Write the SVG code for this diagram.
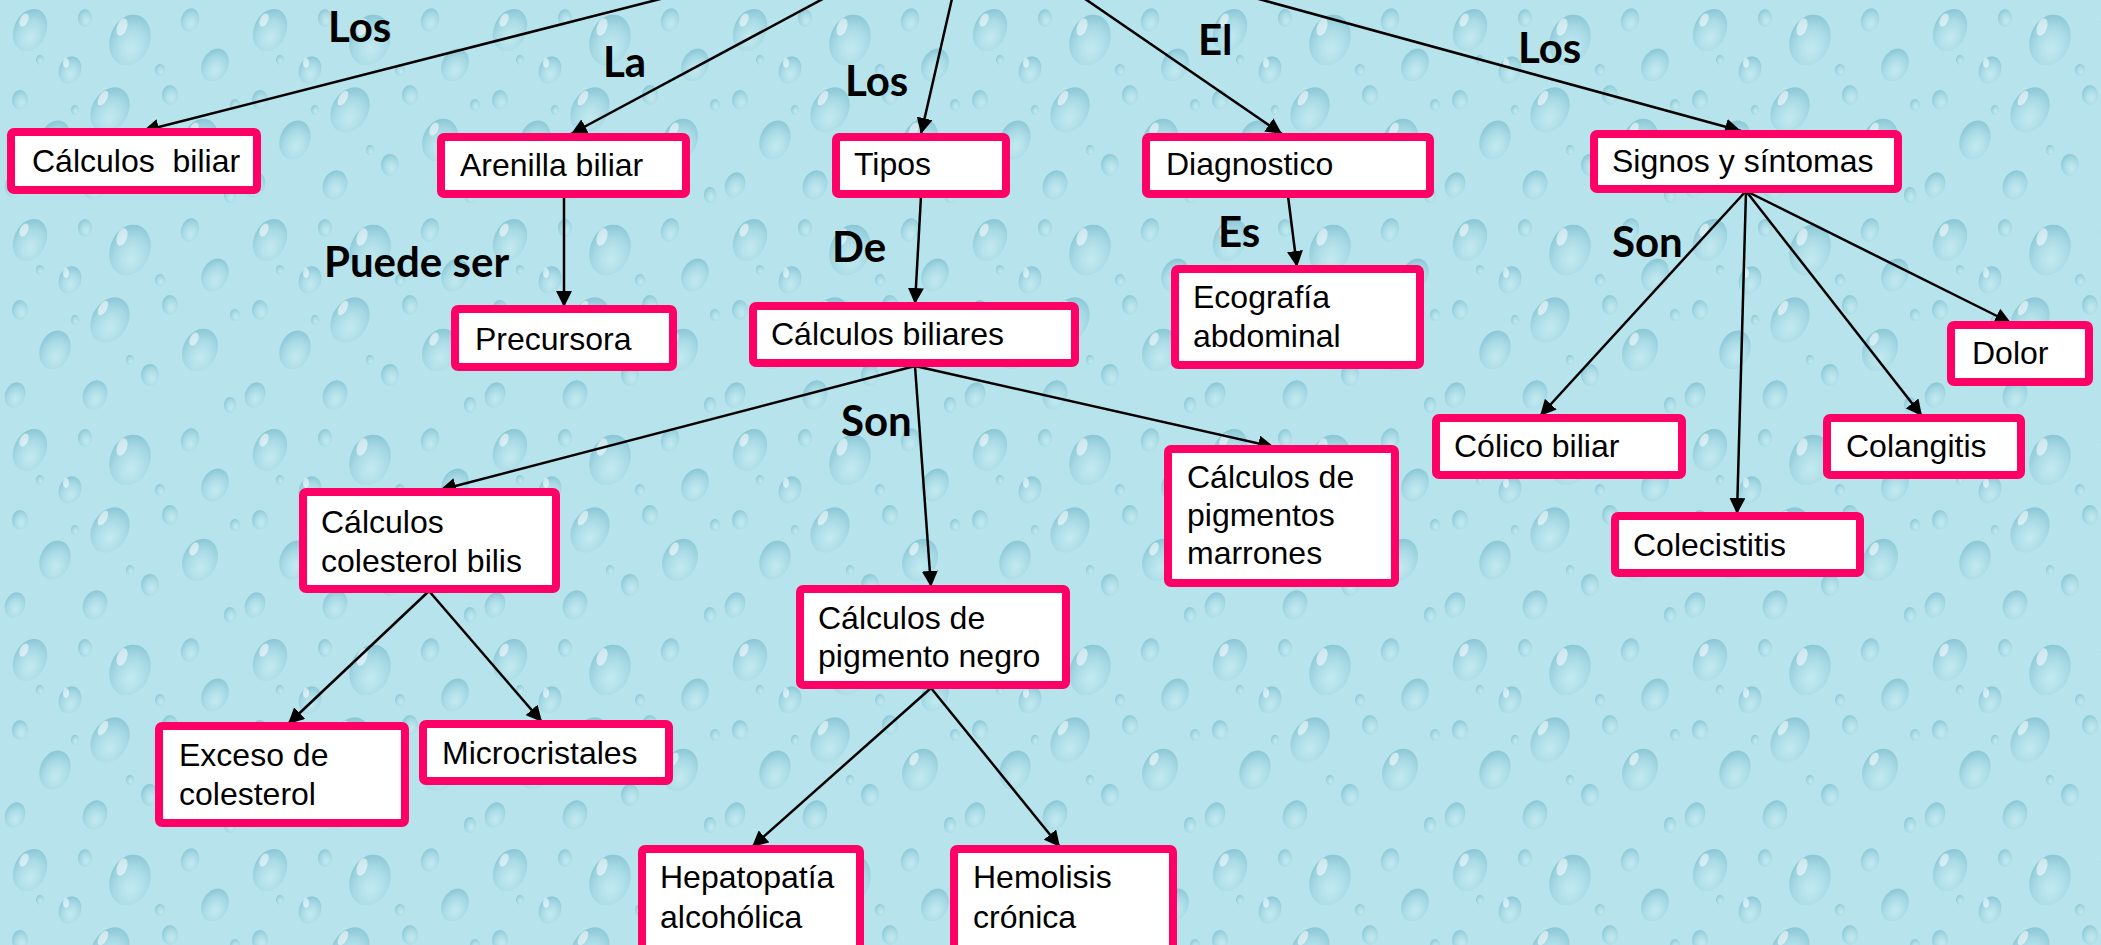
<svg xmlns="http://www.w3.org/2000/svg" width="2101" height="945" viewBox="0 0 2101 945">
<defs>
<style>
.box rect{fill:#ffffff;stroke:#ff0066;stroke-width:8;}
.t{font-family:"Liberation Sans",Arial,sans-serif;font-size:32px;fill:#000000;}
.lbl{font-family:Lato,"Open Sans",sans-serif;font-weight:700;font-size:42px;fill:#000000;}
.edge{stroke:#000000;stroke-width:2.5;fill:none;marker-end:url(#arr);}
.d{fill:url(#drop);}
.h{fill:#ffffff;opacity:0.55;}
</style>
<marker id="arr" markerUnits="userSpaceOnUse" markerWidth="18" markerHeight="16" refX="16" refY="8" orient="auto">
<path d="M0,0 L16,8 L0,16 z" fill="#000000"/>
</marker>
<radialGradient id="drop" cx="0.6" cy="0.65" r="0.7">
<stop offset="0" stop-color="#cdeef4" stop-opacity="0.5"/>
<stop offset="0.6" stop-color="#9fd5e1" stop-opacity="0.7"/>
<stop offset="1" stop-color="#7bbccd" stop-opacity="0.8"/>
</radialGradient>
<pattern id="bg" patternUnits="userSpaceOnUse" width="240" height="210">
<rect width="240" height="210" fill="#b7e4ec"/>
<ellipse class="d" cx="30" cy="30" rx="16" ry="22" transform="rotate(25 30 30)"/>
<ellipse class="h" cx="24" cy="20" rx="4" ry="7" transform="rotate(25 24 20)"/>
<ellipse class="d" cx="85" cy="18" rx="7" ry="9"/>
<ellipse class="d" cx="130" cy="40" rx="20" ry="26" transform="rotate(20 130 40)"/>
<ellipse class="h" cx="122" cy="27" rx="5" ry="9" transform="rotate(20 122 27)"/>
<ellipse class="d" cx="190" cy="20" rx="9" ry="12" transform="rotate(15 190 20)"/>
<ellipse class="d" cx="215" cy="65" rx="13" ry="17" transform="rotate(25 215 65)"/>
<ellipse class="d" cx="70" cy="70" rx="11" ry="14" transform="rotate(20 70 70)"/>
<ellipse class="h" cx="66" cy="63" rx="3" ry="5"/>
<ellipse class="d" cx="20" cy="100" rx="8" ry="10"/>
<ellipse class="d" cx="170" cy="95" rx="8" ry="10"/>
<ellipse class="d" cx="110" cy="110" rx="18" ry="24" transform="rotate(30 110 110)"/>
<ellipse class="h" cx="103" cy="98" rx="4" ry="8" transform="rotate(30 103 98)"/>
<ellipse class="d" cx="55" cy="140" rx="15" ry="20" transform="rotate(20 55 140)"/>
<ellipse class="d" cx="200" cy="140" rx="17" ry="22" transform="rotate(25 200 140)"/>
<ellipse class="h" cx="194" cy="129" rx="4" ry="7" transform="rotate(25 194 129)"/>
<ellipse class="d" cx="150" cy="165" rx="9" ry="11"/>
<ellipse class="d" cx="15" cy="185" rx="10" ry="13" transform="rotate(20 15 185)"/>
<ellipse class="d" cx="95" cy="185" rx="12" ry="15" transform="rotate(20 95 185)"/>
<ellipse class="d" cx="230" cy="195" rx="6" ry="8"/>
<ellipse class="d" cx="160" cy="70" rx="5" ry="6"/>
<ellipse class="d" cx="40" cy="60" rx="4" ry="5"/>
<ellipse class="d" cx="235" cy="105" rx="5" ry="6"/>
<ellipse class="d" cx="130" cy="150" rx="4" ry="5"/>
<ellipse class="d" cx="75" cy="110" rx="4" ry="5"/>
</pattern>
</defs>
<rect x="0" y="0" width="2101" height="945" fill="url(#bg)"/>

<g id="connectors">
<line class="edge" x1="970" y1="-80" x2="143" y2="131"/>
<line class="edge" x1="970" y1="-80" x2="571" y2="134"/>
<line class="edge" x1="970" y1="-80" x2="921" y2="134"/>
<line class="edge" x1="970" y1="-80" x2="1282" y2="134"/>
<line class="edge" x1="970" y1="-80" x2="1741" y2="131"/>
<line class="edge" x1="564" y1="196" x2="564" y2="307"/>
<line class="edge" x1="921" y1="196" x2="915" y2="304"/>
<line class="edge" x1="1288" y1="196" x2="1297" y2="267"/>
<line class="edge" x1="915" y1="366" x2="440" y2="490"/>
<line class="edge" x1="915" y1="366" x2="931" y2="587"/>
<line class="edge" x1="915" y1="366" x2="1274" y2="447"/>
<line class="edge" x1="429" y1="591" x2="288" y2="724"/>
<line class="edge" x1="429" y1="591" x2="542" y2="722"/>
<line class="edge" x1="931" y1="688" x2="752" y2="847"/>
<line class="edge" x1="931" y1="688" x2="1060" y2="847"/>
<line class="edge" x1="1746" y1="191" x2="1540" y2="416"/>
<line class="edge" x1="1746" y1="191" x2="1737" y2="514"/>
<line class="edge" x1="1746" y1="191" x2="1922" y2="416"/>
<line class="edge" x1="1746" y1="191" x2="2011" y2="323"/>
</g>

<g id="labels">
<text class="lbl" x="328" y="42">Los</text>
<text class="lbl" x="603" y="77">La</text>
<text class="lbl" x="845" y="96">Los</text>
<text class="lbl" x="1198" y="55">El</text>
<text class="lbl" x="1518" y="63">Los</text>
<text class="lbl" x="324" y="277">Puede ser</text>
<text class="lbl" x="832" y="262">De</text>
<text class="lbl" x="1218" y="247">Es</text>
<text class="lbl" x="841" y="436">Son</text>
<text class="lbl" x="1612" y="257">Son</text>
</g>

<g id="n1" class="box"><rect x="11" y="132" width="246" height="58" rx="3"/><text class="t" x="32" y="172" xml:space="preserve">Cálculos  biliar</text></g>
<g id="n2" class="box"><rect x="441" y="137" width="245" height="57" rx="3"/><text class="t" x="460" y="176">Arenilla biliar</text></g>
<g id="n3" class="box"><rect x="455" y="309" width="218" height="58" rx="3"/><text class="t" x="475" y="350">Precursora</text></g>
<g id="n4" class="box"><rect x="836" y="137" width="170" height="57" rx="3"/><text class="t" x="854" y="175">Tipos</text></g>
<g id="n5" class="box"><rect x="1146" y="137" width="284" height="57" rx="3"/><text class="t" x="1166" y="175">Diagnostico</text></g>
<g id="n6" class="box"><rect x="1175" y="269" width="245" height="96" rx="3"/><text class="t" x="1193" y="308">Ecografía</text><text class="t" x="1193" y="347">abdominal</text></g>
<g id="n7" class="box"><rect x="1594" y="134" width="304" height="55" rx="3"/><text class="t" x="1612" y="172">Signos y síntomas</text></g>
<g id="n8" class="box"><rect x="753" y="306" width="322" height="57" rx="3"/><text class="t" x="771" y="345">Cálculos biliares</text></g>
<g id="n9" class="box"><rect x="1951" y="325" width="138" height="57" rx="3"/><text class="t" x="1972" y="364">Dolor</text></g>
<g id="n10" class="box"><rect x="1436" y="418" width="246" height="57" rx="3"/><text class="t" x="1454" y="457">Cólico biliar</text></g>
<g id="n11" class="box"><rect x="1827" y="418" width="194" height="57" rx="3"/><text class="t" x="1846" y="457">Colangitis</text></g>
<g id="n12" class="box"><rect x="1615" y="516" width="245" height="57" rx="3"/><text class="t" x="1633" y="556">Colecistitis</text></g>
<g id="n13" class="box"><rect x="303" y="492" width="253" height="97" rx="3"/><text class="t" x="321" y="533">Cálculos</text><text class="t" x="321" y="572">colesterol bilis</text></g>
<g id="n14" class="box"><rect x="1168" y="449" width="227" height="134" rx="3"/><text class="t" x="1187" y="488">Cálculos de</text><text class="t" x="1187" y="526">pigmentos</text><text class="t" x="1187" y="564">marrones</text></g>
<g id="n15" class="box"><rect x="800" y="589" width="266" height="96" rx="3"/><text class="t" x="818" y="629">Cálculos de</text><text class="t" x="818" y="667">pigmento negro</text></g>
<g id="n16" class="box"><rect x="159" y="726" width="246" height="97" rx="3"/><text class="t" x="179" y="766">Exceso de</text><text class="t" x="179" y="805">colesterol</text></g>
<g id="n17" class="box"><rect x="423" y="724" width="246" height="57" rx="3"/><text class="t" x="442" y="764">Microcristales</text></g>
<g id="n18" class="box"><rect x="642" y="849" width="218" height="110" rx="3"/><text class="t" x="660" y="888">Hepatopatía</text><text class="t" x="660" y="928">alcohólica</text></g>
<g id="n19" class="box"><rect x="954" y="849" width="219" height="110" rx="3"/><text class="t" x="973" y="888">Hemolisis</text><text class="t" x="973" y="928">crónica</text></g>
</svg>
